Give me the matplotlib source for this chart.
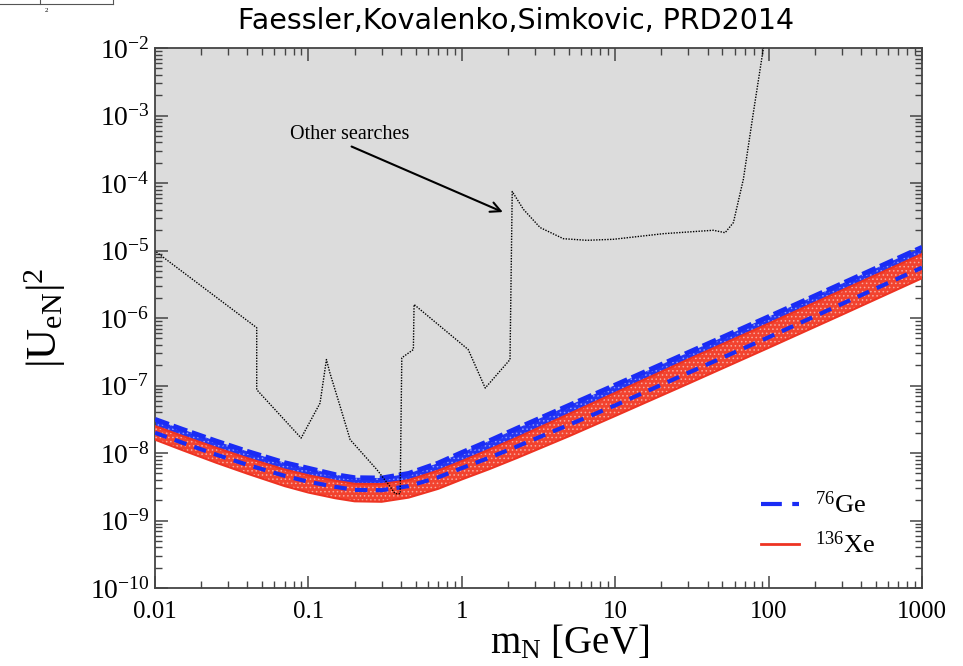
import numpy as np
import matplotlib
matplotlib.use("Agg")
import matplotlib.pyplot as plt
from matplotlib.lines import Line2D
from matplotlib.ticker import LogLocator, NullFormatter, FixedLocator, FixedFormatter

plt.rcParams["font.family"] = ["Liberation Serif", "DejaVu Serif"]
plt.rcParams["mathtext.fontset"] = "custom"
plt.rcParams["mathtext.rm"] = "Liberation Serif"
plt.rcParams["mathtext.it"] = "Liberation Serif:italic"
plt.rcParams["hatch.linewidth"] = 0.6

# -----------------------------
# Data
# -----------------------------
m_band = [0.01, 0.015, 0.025, 0.04, 0.07, 0.1, 0.15, 0.2, 0.3, 0.45,
          0.7, 1, 1.5, 2.3, 5, 10, 30, 100, 300, 1000]

# 76Ge: upper edge and central (dashed) curve
ge_upper = [3.16e-8, 2.26e-8, 1.51e-8, 1.06e-8, 7.2e-9, 5.96e-9, 4.79e-9, 4.32e-9,
            4.27e-9, 5.0e-9, 7.1e-9, 1.02e-8, 1.51e-8, 2.34e-8, 5.1e-8, 1.02e-7,
            3.1e-7, 1.05e-6, 3.24e-6, 1.12e-5]
ge_central = [2.0e-8, 1.43e-8, 9.5e-9, 6.7e-9, 4.6e-9, 3.76e-9, 3.16e-9, 2.85e-9,
              2.82e-9, 3.24e-9, 4.37e-9, 6.0e-9, 8.5e-9, 1.26e-8, 2.63e-8, 5.1e-8,
              1.55e-7, 5.2e-7, 1.62e-6, 5.6e-6]

# 136Xe band
xe_upper = [2.51e-8, 1.8e-8, 1.2e-8, 8.4e-9, 5.7e-9, 4.68e-9, 3.89e-9, 3.5e-9,
            3.47e-9, 3.98e-9, 5.5e-9, 7.6e-9, 1.12e-8, 1.7e-8, 3.8e-8, 7.8e-8,
            2.45e-7, 8.3e-7, 2.57e-6, 8.9e-6]
xe_lower = [1.58e-8, 1.11e-8, 7.2e-9, 4.95e-9, 3.24e-9, 2.6e-9, 2.14e-9, 1.93e-9,
            1.9e-9, 2.19e-9, 2.95e-9, 4.07e-9, 5.75e-9, 8.5e-9, 1.78e-8, 3.55e-8,
            1.07e-7, 3.63e-7, 1.12e-6, 3.9e-6]

# "Other searches" dotted curve
m_other = [0.0102, 0.046, 0.046, 0.0896, 0.119, 0.131, 0.138, 0.161, 0.187, 0.279,
           0.340, 0.367, 0.396, 0.406, 0.483, 0.488, 1.10, 1.42, 2.06, 2.13,
           2.52, 3.24, 4.59, 6.52, 9.72, 20.6, 43.6, 52, 58.9, 68.4, 79.5, 92.4]
u_other = [9.5e-6, 7.2e-7, 8.7e-8, 1.67e-8, 5.5e-8, 2.43e-7, 1.54e-7, 4.9e-8, 1.58e-8, 5.7e-9,
           3.2e-9, 2.5e-9, 2.5e-9, 2.58e-7, 3.42e-7, 1.59e-6, 3.42e-7, 9.2e-8, 2.43e-7, 7.5e-5,
           4.08e-5, 2.19e-5, 1.5e-5, 1.42e-5, 1.47e-5, 1.78e-5, 2.0e-5, 1.84e-5, 2.6e-5, 1.14e-4,
           1.11e-3, 1.0e-2]

x_ticks = [0.01, 0.1, 1, 10, 100, 1000]
x_tick_labels = ["0.01", "0.1", "1", "10", "100", "1000"]
y_ticks = [1e-10, 1e-9, 1e-8, 1e-7, 1e-6, 1e-5, 1e-4, 1e-3, 1e-2]
y_tick_labels = [r"$10^{\mathregular{-%d}}$" % k for k in range(10, 1, -1)]

# -----------------------------
# Figure
# -----------------------------
fig = plt.figure(figsize=(9.63, 6.66), dpi=100)
ax = fig.add_axes([0.161, 0.117, 0.7965, 0.8108])

ax.fill_between(m_band, ge_upper, 1e-2, facecolor="#dcdcdc", linewidth=0, zorder=1)
ax.fill_between(m_band, ge_central, ge_upper, facecolor="#2536f2", edgecolor="#8c98ff",
                hatch="....", linewidth=0, zorder=2)
ax.fill_between(m_band, xe_lower, xe_upper, facecolor="#f2432f", edgecolor="#f7a79c",
                hatch="....", linewidth=0, zorder=3)
ax.plot(m_band, xe_upper, color="#ee3322", lw=1.5, zorder=4)
ax.plot(m_band, xe_lower, color="#ee3322", lw=1.5, zorder=4)
ax.plot(m_band, ge_upper, color="#1a2cf5", lw=3.5, dashes=(3, 1), zorder=4)
ax.plot(m_band, ge_central, color="#1a2cf5", lw=3, dashes=(3, 2), zorder=5)
ax.plot(m_other, u_other, color="black", lw=1.0, linestyle=(0, (1, 1)), zorder=6)

ax.text(0.0755, 5.3e-4, "Other searches", fontsize=14.5, va="center", ha="left", zorder=7)
ax.annotate("", xy=(1.85, 3.72e-5), xytext=(0.191, 3.48e-4), zorder=7,
            arrowprops=dict(arrowstyle="->", lw=1.5, color="black",
                            shrinkA=0, shrinkB=0, mutation_scale=18))

ax.set_xscale("log")
ax.set_yscale("log")
ax.set_xlim(0.01, 1000)
ax.set_ylim(1e-10, 1e-2)

ax.xaxis.set_major_locator(FixedLocator(x_ticks))
ax.xaxis.set_major_formatter(FixedFormatter(x_tick_labels))
ax.xaxis.set_minor_locator(LogLocator(base=10, subs=np.arange(2, 10), numticks=20))
ax.xaxis.set_minor_formatter(NullFormatter())
ax.yaxis.set_major_locator(FixedLocator(y_ticks))
ax.yaxis.set_major_formatter(FixedFormatter(y_tick_labels))
ax.yaxis.set_minor_locator(LogLocator(base=10, subs=np.arange(2, 10), numticks=20))
ax.yaxis.set_minor_formatter(NullFormatter())

ax.tick_params(which="both", direction="in", top=True, right=True, color="#444444")
ax.tick_params(which="major", length=9, width=1.1)
ax.tick_params(which="minor", length=5, width=1.0)
ax.tick_params(axis="x", labelsize=18, pad=9.5)
ax.tick_params(axis="y", labelsize=20, pad=4)
for s in ax.spines.values():
    s.set_linewidth(1.3)
    s.set_color("#444444")

ax.set_xlabel(r"m$_\mathrm{N}$ [GeV]", fontsize=28)
ax.xaxis.set_label_coords(0.54, -0.066)
ax.set_ylabel(r"|U$_\mathrm{eN}$|$^2$", fontsize=31)
ax.yaxis.set_label_coords(-0.113, 0.50)

xe_handle = Line2D([], [], color="#ee3322", lw=2)
ge_handle = Line2D([], [], color="#1a2cf5", lw=3, dashes=(5, 2.5))
ax.legend([ge_handle, xe_handle], [r"$^{76}$Ge", r"$^{136}$Xe"], loc="lower right",
          bbox_to_anchor=(0.97, 0.012), frameon=False, fontsize=19,
          handlelength=1.45, handletextpad=0.6, labelspacing=0.5)

fig.text(516 / 963, 1 - 21 / 666, "Faessler,Kovalenko,Simkovic, PRD2014",
         fontsize=20.5, family="DejaVu Sans", ha="center", va="center")

# leftover clipped box in the top-left corner
fig.add_artist(Line2D([0, 113 / 963], [1 - 4 / 666, 1 - 4 / 666], color="#555555", lw=0.8))
fig.add_artist(Line2D([40 / 963, 40 / 963], [1, 1 - 4 / 666], color="#555555", lw=0.8))
fig.add_artist(Line2D([113 / 963, 113 / 963], [1, 1 - 4 / 666], color="#555555", lw=0.8))
fig.text(46 / 963, 1 - 10 / 666, "2", fontsize=5, ha="center", va="center")

fig.savefig("out.png", dpi=100)
